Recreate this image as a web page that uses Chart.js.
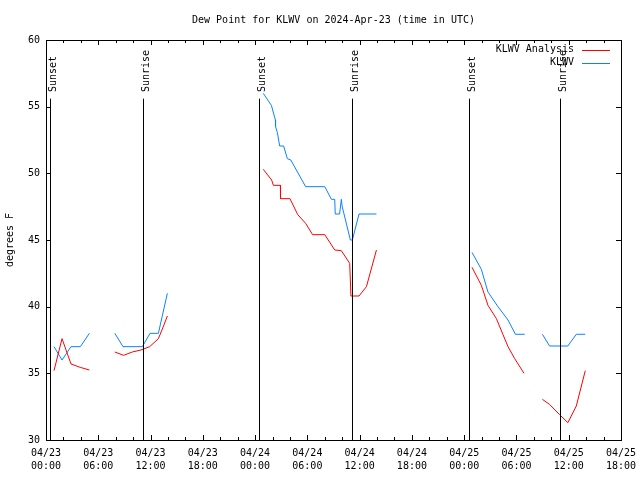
<!DOCTYPE html>
<html>
<head>
<meta charset="utf-8">
<script src="https://cdn.jsdelivr.net/npm/chart.js@4"></script>
<style>
  body { margin: 0; background: #fff; }
  #wrap { width: 640px; height: 480px; }
</style>
</head>
<body>
<div id="wrap"><canvas id="dewChart" width="640" height="480"></canvas></div>
<script>
// hours since 04/23 00:00 UTC, null = gap in the record
const analysisHours = [0.92, 1.84, 2.87, 3.92, 4.98, 6,
    7.9, 8.9, 9.9, 10.9, 11.9, 12.9, 13.4, 13.93, 20,
    24.94, 25.9, 26.1, 26.9, 26.92, 28.0, 28.9, 29.8, 30.6, 32.0, 33.14, 33.9, 34.86, 35.0, 35.93, 36.78, 37.93, 43,
    48.9, 49.97, 50.73, 51.7, 52.46, 53.03, 53.8, 54.87, 56,
    56.98, 57.8, 58.95, 59.9, 60.87, 61.9];
const analysisVals = [35.2, 37.6, 35.7, 35.45, 35.25, null,
    36.6, 36.35, 36.6, 36.75, 37.0, 37.6, 38.4, 39.3, null,
    50.3, 49.5, 49.1, 49.1, 48.1, 48.1, 46.9, 46.25, 45.4, 45.4, 44.25, 44.2, 43.25, 40.8, 40.8, 41.5, 44.25, null,
    42.95, 41.6, 40.1, 39.1, 37.9, 37.0, 36.1, 35.0, null,
    33.05, 32.67, 31.9, 31.3, 32.55, 35.2];

const obsHours = [0.92, 1.84, 2.87, 3.95, 4.98, 6,
    7.9, 8.84, 11.06, 11.94, 12.9, 13.93, 20,
    24.94, 25.87, 26.33, 26.35, 26.56, 26.82, 27.28, 27.7, 28.1, 29.8, 32.0, 32.76, 33.14, 33.2, 33.7, 33.9, 34.0, 34.94, 35.17, 35.93, 37.93, 43,
    48.9, 49.97, 50.73, 51.88, 53.03, 53.88, 54.95, 56,
    56.98, 57.8, 59.9, 60.87, 61.9];
const obsVals = [37, 36, 37, 37, 38, null,
    38, 37, 37, 38, 38, 41, null,
    56, 55.1, 54, 53.5, 53.05, 52.05, 52.05, 51.1, 51, 49, 49, 48.05, 48.05, 46.95, 46.95, 48.05, 47.5, 45, 45, 46.95, 46.95, null,
    44.07, 42.8, 41.1, 40, 39, 37.93, 37.93, null,
    37.93, 37.05, 37.05, 37.93, 37.93];

const sunHours = [0.45, 11.17, 24.49, 35.17, 48.6, 59.05];
const sunLabels = ['Sunset', 'Sunrise', 'Sunset', 'Sunrise', 'Sunset', 'Sunrise'];
const sunLineTop = 55.6;

const tickDays = ['04/23', '04/23', '04/23', '04/23', '04/24', '04/24', '04/24', '04/24', '04/25', '04/25', '04/25', '04/25'];
const tickTimes = ['00:00', '06:00', '12:00', '18:00', '00:00', '06:00', '12:00', '18:00', '00:00', '06:00', '12:00', '18:00'];

const FONT = 'DejaVu Sans Mono';

function toPoints(xs, ys) {
    return xs.map((x, i) => ({x: x, y: ys[i]}));
}

const gnuplotExtras = {
    id: 'gnuplotExtras',
    afterDatasetsDraw(chart) {
        const ctx = chart.ctx;
        const a = chart.chartArea;
        const xs = chart.scales.x;
        const ys = chart.scales.y;
        ctx.save();
        ctx.strokeStyle = '#000';
        ctx.fillStyle = '#000';
        ctx.lineWidth = 1;

        // sunrise / sunset markers
        ctx.font = '10px ' + FONT;
        sunHours.forEach((h, i) => {
            const px = Math.round(xs.getPixelForValue(h)) + 0.5;
            ctx.beginPath();
            ctx.moveTo(px, ys.getPixelForValue(sunLineTop));
            ctx.lineTo(px, a.bottom);
            ctx.stroke();
            ctx.save();
            ctx.translate(px + 5, 92);
            ctx.rotate(-Math.PI / 2);
            ctx.textAlign = 'left';
            ctx.textBaseline = 'alphabetic';
            ctx.fillText(sunLabels[i], 0, 0);
            ctx.restore();
        });

        // border
        ctx.strokeRect(a.left + 0.5, a.top + 0.5, a.right - a.left, a.bottom - a.top);

        // inward ticks
        ctx.beginPath();
        xs.ticks.forEach(t => {
            const px = Math.round(xs.getPixelForValue(t.value)) + 0.5;
            const len = t.value % 6 === 0 ? 5 : 3;
            ctx.moveTo(px, a.bottom);
            ctx.lineTo(px, a.bottom - len);
            ctx.moveTo(px, a.top);
            ctx.lineTo(px, a.top + len);
        });
        ys.ticks.forEach(t => {
            const py = Math.round(ys.getPixelForValue(t.value)) + 0.5;
            ctx.moveTo(a.left, py);
            ctx.lineTo(a.left + 5, py);
            ctx.moveTo(a.right, py);
            ctx.lineTo(a.right - 5, py);
        });
        ctx.stroke();

        // legend, gnuplot style: text then line sample
        ctx.textAlign = 'right';
        ctx.textBaseline = 'middle';
        chart.data.datasets.forEach((ds, i) => {
            const y = 49.5 + i * 13;
            ctx.fillStyle = '#000';
            ctx.fillText(ds.label, 574, y);
            ctx.strokeStyle = ds.borderColor;
            ctx.beginPath();
            ctx.moveTo(582, Math.round(y) + 0.5);
            ctx.lineTo(610, Math.round(y) + 0.5);
            ctx.stroke();
        });
        ctx.restore();
    }
};

new Chart(document.getElementById('dewChart'), {
    type: 'line',
    data: {
        datasets: [{
            label: 'KLWV Analysis',
            data: toPoints(analysisHours, analysisVals),
            borderColor: '#ff0000',
            borderWidth: 1,
            pointRadius: 0,
            spanGaps: false,
            tension: 0
        }, {
            label: 'KLWV',
            data: toPoints(obsHours, obsVals),
            borderColor: '#0a82ff',
            borderWidth: 1,
            pointRadius: 0,
            spanGaps: false,
            tension: 0
        }]
    },
    options: {
        responsive: false,
        animation: false,
        layout: { padding: { left: 0, right: 19, top: 0, bottom: 0 } },
        scales: {
            x: {
                type: 'linear',
                min: 0,
                max: 66,
                afterFit(scale) {
                    scale.height = 40;
                    scale.paddingLeft = 0;
                    scale.paddingRight = 0;
                },
                grid: { drawOnChartArea: false, drawTicks: false },
                border: { display: false },
                ticks: {
                    stepSize: 2,
                    autoSkip: false,
                    maxRotation: 0,
                    padding: 7,
                    color: '#000',
                    font: { family: FONT, size: 10, lineHeight: 1.3 },
                    callback: function (value) {
                        if (value % 6 !== 0) return '';
                        const i = value / 6;
                        return [tickDays[i], tickTimes[i]];
                    }
                }
            },
            y: {
                min: 30,
                max: 60,
                afterFit(scale) { scale.width = 46; },
                grid: { drawOnChartArea: false, drawTicks: false },
                border: { display: false },
                title: {
                    display: true,
                    text: 'degrees F',
                    color: '#000',
                    padding: { top: 4, bottom: 0 },
                    font: { family: FONT, size: 10 }
                },
                ticks: {
                    stepSize: 5,
                    padding: 6,
                    color: '#000',
                    font: { family: FONT, size: 10 }
                }
            }
        },
        plugins: {
            legend: { display: false },
            tooltip: { enabled: false },
            title: {
                display: true,
                fullSize: false,
                text: 'Dew Point for KLWV on 2024-Apr-23 (time in UTC)',
                color: '#000',
                padding: { top: 14, bottom: 14 },
                font: { family: FONT, size: 10, weight: 'normal' }
            }
        }
    },
    plugins: [gnuplotExtras]
});
</script>
</body>
</html>
